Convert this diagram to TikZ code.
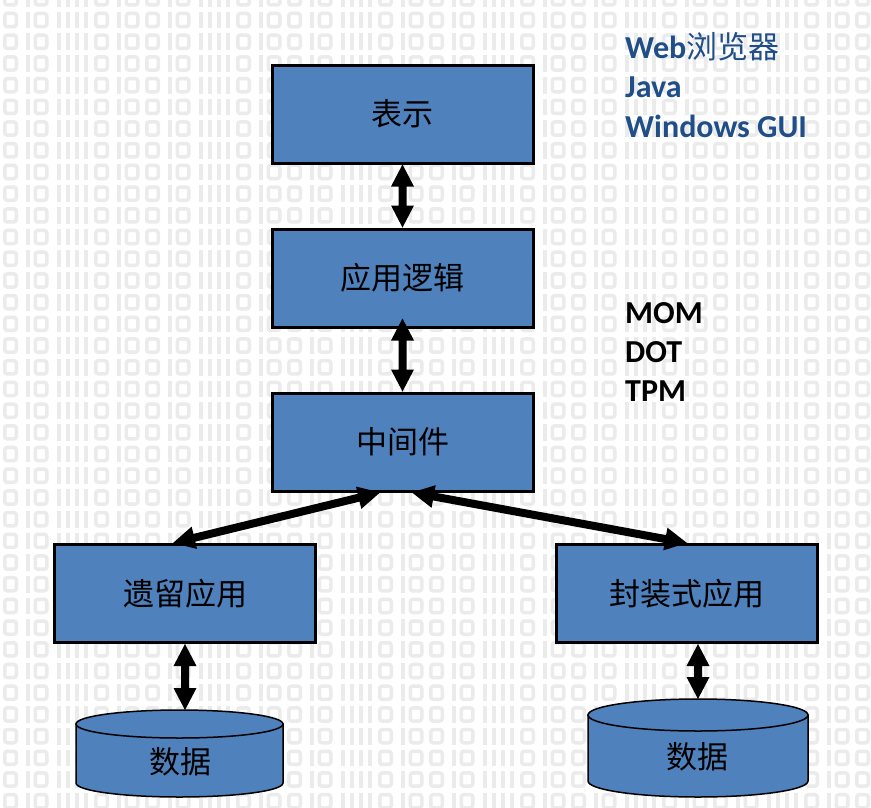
\documentclass[tikz,border=0pt]{standalone}
\usepackage{fontspec}
\setmainfont{Carlito}
\newfontfamily\cjk{Noto Sans CJK SC}
\usetikzlibrary{calc}
\definecolor{boxblue}{HTML}{4F81BD}
\definecolor{txtblue}{HTML}{1F4E89}
\definecolor{patgray}{HTML}{EBEBEB}
% double arrow as a filled polygon between two points
\newcommand\dblarr[2]{%
  \coordinate (qa) at (#1);
  \coordinate (qb) at (#2);
  \coordinate (qA) at ($(qa)!22pt!(qb)$);
  \coordinate (qB) at ($(qb)!22pt!(qa)$);
  \fill[black] (qa)
    -- ($(qA)!11.5pt!90:(qb)$) -- ($(qA)!4pt!90:(qb)$)
    -- ($(qB)!4pt!90:(qb)$) -- ($(qB)!11.5pt!90:(qb)$)
    -- (qb)
    -- ($(qB)!11.5pt!-90:(qb)$) -- ($(qB)!4pt!-90:(qb)$)
    -- ($(qA)!4pt!-90:(qb)$) -- ($(qA)!11.5pt!-90:(qb)$)
    -- cycle;
}
\begin{document}
\begin{tikzpicture}[x=1pt,y=-1pt,
  box/.style={draw=black, line width=3pt, fill=boxblue, minimum width=261pt, minimum height=98pt, inner sep=0pt, font=\cjk\fontsize{31}{36}\selectfont, text=black},
  cyl/.style={draw=black, line width=1.5pt, fill=boxblue},
  cyltext/.style={font=\cjk\fontsize{31}{36}\selectfont, inner sep=0pt},
  side/.style={anchor=base west, inner sep=0pt, font=\bfseries\fontsize{32}{38}\selectfont},
  patO/.style={draw=patgray, line width=3.5pt, rounded corners=2.5pt},
  patI/.style={fill=patgray}
]
\useasboundingbox (0,0) rectangle (871,807);
\fill[white] (0,0) rectangle (871,807);
% background binary pattern
\begin{scope}
\clip (0,0) rectangle (871,807);
\foreach \r in {-1,...,37} {
  \foreach \p in {0,...,6} {
    \pgfmathsetmacro\yy{11.7+21.7*\r}
    \pgfmathsetmacro\xx{3+142*\p}
    \foreach \o in {0,30.5,91,121.5} {
      \draw[patO] (\xx+\o+1.75,\yy+1.75) rectangle (\xx+\o+13.25,\yy+14.95);
    }
    \foreach \i in {20.5,51,60,69,78,111.5} {
      \fill[patI] (\xx+\i+2.5,\yy) rectangle (\xx+\i+6.5,\yy+16.7);
    }
  }
}
\end{scope}

% boxes
\node[box] (pres)  at (402.5,114) {表示};
\node[box] (logic) at (402.5,278) {应用逻辑};
\node[box] (mid)   at (402.5,442) {中间件};
\node[box] (legacy) at (185,593.5) {遗留应用};
\node[box] (wrap)  at (687,593.5) {封装式应用};

% databases
\coordinate (db1top) at (179.5,710);
\coordinate (db2top) at (698,699);
\filldraw[cyl] (76,724) -- (76,783) arc[start angle=180,end angle=360,x radius=103.5pt,y radius=14pt] -- (283,724) -- cycle;
\filldraw[cyl] (179.5,724) ellipse[x radius=103.5pt,y radius=14pt];
\filldraw[cyl] (588,715) -- (588,781) arc[start angle=180,end angle=360,x radius=110pt,y radius=16pt] -- (808,715) -- cycle;
\filldraw[cyl] (698,715) ellipse[x radius=110pt,y radius=16pt];
\node[cyltext] (d1) at (180,762) {数据};
\node[cyltext] (d2) at (697,757) {数据};

% connectors
\dblarr{pres.south}{logic.north}
\dblarr{[yshift=10pt]logic.south}{mid.north}
\dblarr{[xshift=-22.5pt]mid.south}{[xshift=-12pt]legacy.north}
\dblarr{[xshift=9.5pt]mid.south}{wrap.north}
\dblarr{legacy.south}{legacy.south |- db1top}
\dblarr{db2top |- wrap.south}{db2top}

% side texts
\node[side, text=txtblue] (web) at (625,58) {Web{\cjk\mdseries\fontsize{31}{38}\selectfont 浏览器}};
\node[side, text=txtblue] (java) at (625,97) {Java};
\node[side, text=txtblue] (wingui) at (625,137) {Windows GUI};
\node[side] (mom) at (625,323) {MOM};
\node[side] (dot) at (625,362) {DOT};
\node[side] (tpm) at (625,401) {TPM};
\end{tikzpicture}
\end{document}
